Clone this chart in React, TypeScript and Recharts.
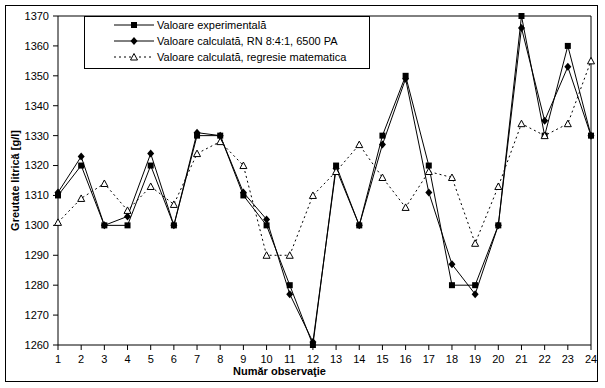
import { LineChart, Line, XAxis, YAxis, ReferenceLine, Legend } from 'recharts';

const observations = [1, 2, 3, 4, 5, 6, 7, 8, 9, 10, 11, 12, 13, 14, 15, 16, 17, 18, 19, 20, 21, 22, 23, 24];
const experimental = [1310, 1320, 1300, 1300, 1320, 1300, 1330, 1330, 1310, 1300, 1280, 1260, 1320, 1300, 1330, 1350, 1320, 1280, 1280, 1300, 1370, 1330, 1360, 1330];
const retea = [1311, 1323, 1300, 1303, 1324, 1300, 1331, 1330, 1311, 1302, 1277, 1261, 1319, 1300, 1327, 1349, 1311, 1287, 1277, 1300, 1366, 1335, 1353, 1330];
const regresie = [1301, 1309, 1314, 1305, 1313, 1307, 1324, 1328, 1320, 1290, 1290, 1310, 1318, 1327, 1316, 1306, 1318, 1316, 1294, 1313, 1334, 1330, 1334, 1355];
const yTicks = [1260, 1270, 1280, 1290, 1300, 1310, 1320, 1330, 1340, 1350, 1360, 1370];
const seriesNames = ['Valoare experimentală', 'Valoare calculată, RN 8:4:1, 6500 PA', 'Valoare calculată, regresie matematica'];

const data = observations.map((obs, i) => ({
  obs,
  experimental: experimental[i],
  retea: retea[i],
  regresie: regresie[i],
}));

const FONT = '"Liberation Sans", Arial, sans-serif';

function Square({ cx, cy }: any) {
  if (cx == null || cy == null) return null;
  return <rect x={cx - 3} y={cy - 3} width={6} height={6} fill="#000" />;
}

function Diamond({ cx, cy }: any) {
  if (cx == null || cy == null) return null;
  return <polygon points={`${cx},${cy - 4} ${cx + 3.5},${cy} ${cx},${cy + 4} ${cx - 3.5},${cy}`} fill="#000" />;
}

function Triangle({ cx, cy }: any) {
  if (cx == null || cy == null) return null;
  return <polygon points={`${cx},${cy - 3.5} ${cx + 3.5},${cy + 3} ${cx - 3.5},${cy + 3}`} fill="#fff" stroke="#000" strokeWidth={1} />;
}

const markers = [Square, Diamond, Triangle];
const dashes = [undefined, undefined, '2 3'];

function LegendBox() {
  return (
    <div style={{ width: 284, height: 51, border: '1px solid #000', background: '#fff', fontFamily: FONT, fontSize: 11, color: '#000' }}>
      {seriesNames.map((name, i) => {
        const Marker = markers[i];
        return (
          <div key={name} style={{ position: 'absolute', left: 1, top: 1 + i * 16, height: 16, display: 'flex', alignItems: 'center' }}>
            <svg width={72} height={16} style={{ display: 'block' }}>
              <line x1={29} x2={69} y1={8} y2={8} stroke="#000" strokeDasharray={dashes[i]} />
              <Marker cx={49} cy={8} />
            </svg>
            <span style={{ whiteSpace: 'nowrap' }}>{name}</span>
          </div>
        );
      })}
    </div>
  );
}

function YTitle({ viewBox }: any) {
  const cy = viewBox.y + viewBox.height / 2;
  return (
    <text x={19} y={cy} transform={`rotate(-90, 19, ${cy})`} textAnchor="middle" fontFamily={FONT} fontSize={11} fontWeight="bold" fill="#000">
      Greutate litrică [g/l]
    </text>
  );
}

export default function App() {
  return (
    <div style={{ position: 'absolute', left: 0, top: 0, width: 605, height: 388, background: '#fff' }}>
      <div style={{ position: 'absolute', left: 5, top: 5, width: 591, height: 375, border: '1px solid #000' }} />
      <LineChart width={605} height={388} data={data} margin={{ top: 16, right: 14, bottom: 13, left: 0 }}>
        <XAxis
          dataKey="obs"
          type="number"
          domain={[1, 24]}
          ticks={observations}
          interval={0}
          height={30}
          stroke="#000"
          tickSize={5}
          tickMargin={5}
          tick={{ fill: '#000', fontSize: 11, fontFamily: FONT }}
          label={{ value: 'Număr observaţie', position: 'insideBottom', offset: 0, dx: -45, fill: '#000', fontSize: 11, fontWeight: 'bold', fontFamily: FONT }}
        />
        <YAxis
          domain={[1260, 1370]}
          ticks={yTicks}
          interval={0}
          width={58}
          stroke="#000"
          tickSize={5}
          tickMargin={4}
          tick={{ fill: '#000', fontSize: 11, fontFamily: FONT }}
          label={{ content: YTitle }}
        />
        <ReferenceLine y={1370} stroke="#000" />
        <ReferenceLine x={24} stroke="#000" />
        <Legend layout="vertical" align="center" verticalAlign="middle" wrapperStyle={{ left: 84, top: 16, width: 286, height: 53 }} content={LegendBox} />
        <Line dataKey="experimental" name={seriesNames[0]} stroke="#000" strokeWidth={1} dot={Square} activeDot={false} isAnimationActive={false} />
        <Line dataKey="retea" name={seriesNames[1]} stroke="#000" strokeWidth={1} dot={Diamond} activeDot={false} isAnimationActive={false} />
        <Line dataKey="regresie" name={seriesNames[2]} stroke="#000" strokeWidth={1} strokeDasharray="2 3" dot={Triangle} activeDot={false} isAnimationActive={false} />
      </LineChart>
    </div>
  );
}
